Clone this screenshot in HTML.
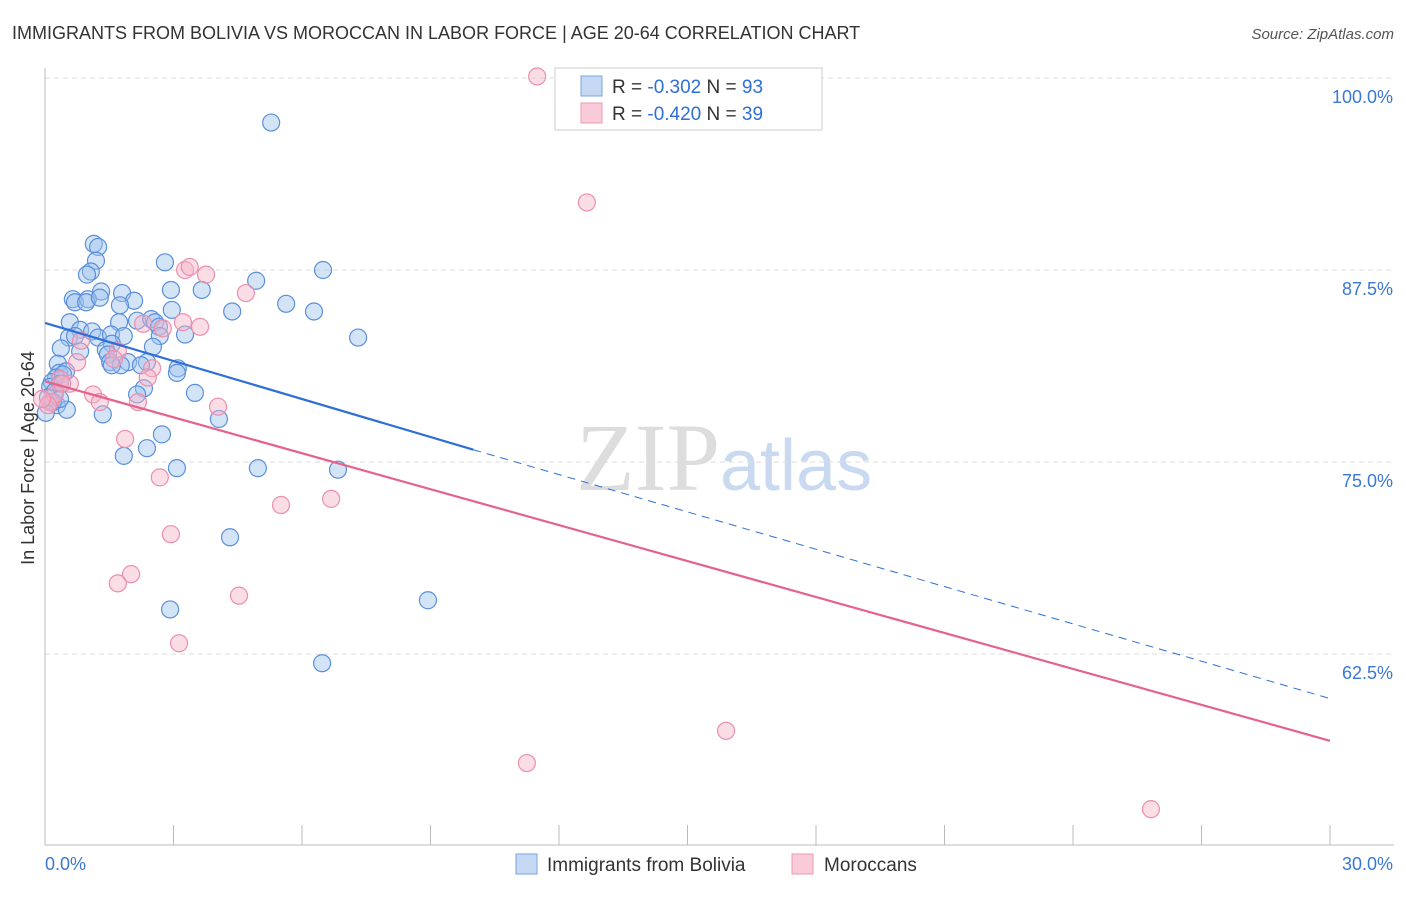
<!DOCTYPE html>
<html><head><meta charset="utf-8"><style>
body{margin:0;background:#fff;font-family:"Liberation Sans",sans-serif;}
</style></head><body>
<svg id="c" width="1406" height="892" xmlns="http://www.w3.org/2000/svg">
<text x="12" y="39" font-size="18" fill="#333">IMMIGRANTS FROM BOLIVIA VS MOROCCAN IN LABOR FORCE | AGE 20-64 CORRELATION CHART</text>
<text x="1394" y="39" font-size="15" fill="#555" font-style="italic" text-anchor="end">Source: ZipAtlas.com</text>
<text x="720" y="490" font-size="96" fill="#ddd" text-anchor="end" font-family="Liberation Serif">ZIP</text>
<text x="720" y="490" font-size="72" fill="#c9daf0">atlas</text>
<g id="grid"></g><g id="pts"></g><g id="lines"></g>
<text transform="translate(34,458) rotate(-90)" font-size="18" fill="#333" text-anchor="middle">In Labor Force | Age 20-64</text>
<g>
<rect x="555" y="68" width="267" height="62" fill="#fff" stroke="#ccc"/>
<rect x="581" y="76" width="21" height="20" fill="#c5d9f5" stroke="#7aa3e0"/>
<rect x="581" y="103" width="21" height="20" fill="#f9cad8" stroke="#ec9ab3"/>
<text x="612" y="93" font-size="19" fill="#333">R = <tspan fill="#2f6fd6">-0.302</tspan>   N = <tspan fill="#2f6fd6">93</tspan></text>
<text x="612" y="120" font-size="19" fill="#333">R = <tspan fill="#2f6fd6">-0.420</tspan>   N = <tspan fill="#2f6fd6">39</tspan></text>
</g>
<g>
<rect x="516" y="854" width="21" height="20" fill="#c5d9f5" stroke="#7aa3e0"/>
<text x="547" y="871" font-size="19" fill="#333">Immigrants from Bolivia</text>
<rect x="792" y="854" width="21" height="20" fill="#f9cad8" stroke="#ec9ab3"/>
<text x="824" y="871" font-size="19" fill="#333">Moroccans</text>
</g>
</svg>
<script>
const blueX=[5.28,1.14,1.24,1.19,1.07,0.98,2.80,4.93,6.49,2.94,3.66,1.31,1.80,0.65,0.70,1.00,0.96,1.28,2.08,1.75,2.96,4.37,5.63,6.28,0.58,1.73,2.15,2.48,2.57,2.66,0.82,1.10,0.56,0.70,1.24,1.54,1.84,3.27,2.68,1.56,7.31,0.37,0.82,1.42,1.47,2.52,1.52,1.94,1.77,2.38,2.24,0.30,1.56,0.33,0.49,0.26,0.16,0.42,3.10,3.08,0.12,0.35,0.23,2.31,2.15,3.50,0.16,0.28,0.51,1.35,4.06,2.73,2.38,1.84,3.08,4.97,6.84,4.32,8.94,2.92,6.47,0.07,0.19,0.02,0.35];
const blueY=[97.1,89.2,89.0,88.1,87.4,87.2,88.0,86.8,87.5,86.2,86.2,86.1,86.0,85.6,85.4,85.6,85.4,85.7,85.5,85.2,84.9,84.8,85.3,84.8,84.1,84.1,84.2,84.3,84.1,83.8,83.6,83.5,83.1,83.2,83.1,83.3,83.2,83.3,83.2,82.7,83.1,82.4,82.2,82.3,82.0,82.5,81.5,81.5,81.3,81.5,81.3,81.4,81.3,80.8,80.9,80.5,80.2,80.7,81.1,80.8,79.9,80.1,79.6,79.8,79.4,79.5,78.9,78.7,78.4,78.1,77.8,76.8,75.9,75.4,74.6,74.6,74.5,70.1,66.0,65.4,61.9,79.2,78.9,78.2,79.1];
const pinkX=[11.49,12.65,3.27,3.38,3.76,4.69,2.29,2.75,3.22,3.62,0.84,0.75,1.70,1.61,2.50,2.40,0.35,0.58,1.12,1.28,2.17,4.04,1.87,2.68,5.51,6.68,2.94,1.70,2.01,4.53,3.13,15.90,11.25,25.82,0.12,0.23,0.07,0.40,-0.07];
const pinkY=[100.1,91.9,87.5,87.7,87.2,86.0,84.0,83.7,84.1,83.8,82.9,81.5,82.2,81.7,81.1,80.5,80.4,80.1,79.4,78.9,78.9,78.6,76.5,74.0,72.2,72.6,70.3,67.1,67.7,66.3,63.2,57.5,55.4,52.4,78.9,79.4,78.7,80.1,79.1];
const xTicks=[0,3,6,9,12,15,18,21,24,27,30];
const yTicks=[62.5,75,87.5,100];
const yTickLabels=["62.5%","75.0%","87.5%","100.0%"];
const blueTrend=[0,84.05,10,75.8,30,59.6];
const pinkTrend=[0,80.25,30,56.85];
const X=v=>45+v/30*1285, Y=v=>78+(100-v)/12.5*192;
const NS="http://www.w3.org/2000/svg";
function mk(t,a,p){const e=document.createElementNS(NS,t);for(const k in a)e.setAttribute(k,a[k]);p.appendChild(e);return e;}
const g=document.getElementById('grid');
yTicks.forEach((v,i)=>{
 const l=mk('line',{x1:45,x2:1394,y1:Y(v),y2:Y(v),stroke:'#ddd','stroke-dasharray':'5,4'},g);
 
 
 const t=mk('text',{x:1393,y:Y(v)+25,'font-size':18,fill:'#3a78d4','text-anchor':'end'},g);
 t.textContent=yTickLabels[i];
 
 
});
mk('line',{x1:45,x2:45,y1:68,y2:845,stroke:'#bbb'},g);
mk('line',{x1:45,x2:1394,y1:845,y2:845,stroke:'#bbb'},g);
xTicks.forEach(v=>{const l=mk('line',{x1:X(v),x2:X(v),y1:825,y2:845,stroke:'#bbb'},g);
 
 });
const t0=mk('text',{x:45,y:870,'font-size':18,fill:'#3a78d4'},g);t0.textContent='0.0%';


const t1=mk('text',{x:1393,y:870,'font-size':18,fill:'#3a78d4','text-anchor':'end'},g);t1.textContent='30.0%';


const p=document.getElementById('pts');
blueX.forEach((v,i)=>{const c=mk('circle',{cx:X(v),cy:Y(blueY[i]),r:8.5,fill:'rgba(160,195,238,0.45)',stroke:'#5b8fdc','stroke-width':1.2},p);
 
 });
pinkX.forEach((v,i)=>{const c=mk('circle',{cx:X(v),cy:Y(pinkY[i]),r:8.5,fill:'rgba(246,180,200,0.45)',stroke:'#ec8fac','stroke-width':1.2},p);
 
 });
const L=document.getElementById('lines');
const b1=mk('line',{x1:X(blueTrend[0]),y1:Y(blueTrend[1]),x2:X(blueTrend[2]),y2:Y(blueTrend[3]),stroke:'#2f6fd6','stroke-width':2.2},L);


const b2=mk('line',{x1:X(blueTrend[2]),y1:Y(blueTrend[3]),x2:X(blueTrend[4]),y2:Y(blueTrend[5]),stroke:'#2f6fd6','stroke-width':1,'stroke-dasharray':'8,6'},L);


const p1=mk('line',{x1:X(pinkTrend[0]),y1:Y(pinkTrend[1]),x2:X(pinkTrend[2]),y2:Y(pinkTrend[3]),stroke:'#e4628c','stroke-width':2.2},L);


</script>
</body></html>
